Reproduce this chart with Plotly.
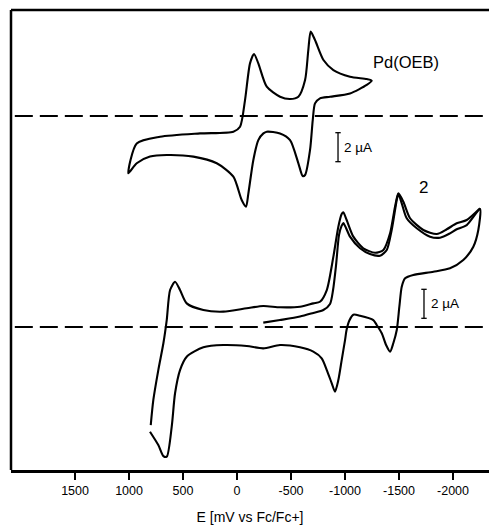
import plotly.graph_objects as go

# Potential axis ticks (mV vs Fc/Fc+)
tick_vals = [1500, 1000, 500, 0, -500, -1000, -1500, -2000]
tick_text = ["1500", "1000", "500", "0", "-500", "-1000", "-1500", "-2000"]

# Pd(OEB) cyclic voltammogram: potential (mV) and current (uA, relative to its own zero)
pd_E = [1006, 929, 713, 343, 34, -28, -74, -120, -157, -197, -275, -398, -491, -568, -630,
        -660, -682, -722, -800, -892, -1046, -1201, -1247, -1201, -1046, -861, -768, -722,
        -701, -676, -630, -608, -568, -491, -398, -275, -244, -197, -151, -105, -83, -43,
        34, 188, 404, 651, 806, 929, 1006]
pd_I = [-3.95, -1.89, -1.43, -1.20, -1.08, -0.74, 1.10, 3.63, 4.28, 3.63, 2.02, 1.33, 1.17,
        1.33, 2.48, 4.55, 5.82, 5.24, 3.86, 3.17, 2.71, 2.55, 2.44, 2.14, 1.56, 1.33, 1.22,
        0.87, -0.28, -2.34, -4.07, -4.14, -3.26, -1.66, -1.20, -1.08, -1.20, -1.66, -3.03,
        -5.33, -6.25, -5.79, -4.18, -3.26, -2.80, -2.69, -2.80, -3.26, -3.95]

# Compound 2, first scan (starts at -243 mV, turns at -2250 mV, returns to ~800 mV)
cv2_s1_E = [-243, -398, -583, -706, -799, -861, -889, -917, -944, -968, -984, -1009, -1046,
            -1139, -1231, -1324, -1386, -1432, -1479, -1494, -1525, -1571, -1664, -1787,
            -1880, -1972, -2034, -2127, -2250,
            -2234, -2188, -2095, -1972, -1818, -1632, -1556, -1525, -1503, -1479, -1447,
            -1417, -1380, -1340, -1293, -1262, -1139, -1077, -1040, -1014, -1000, -969,
            -938, -907, -877, -831, -784, -706, -583, -398, -243, -90, 127, 312, 466, 528,
            574, 605, 651, 682, 729, 806]
cv2_s1_I = [0.30, 0.48, 0.72, 0.97, 1.17, 1.59, 2.55, 4.28, 6.34, 6.97, 7.17, 6.83, 6.23,
            5.43, 5.03, 4.92, 5.31, 6.69, 8.76, 9.17, 8.53, 7.50, 6.81, 6.23, 6.16, 6.46,
            6.74, 7.03, 8.14,
            6.69, 5.54, 4.62, 4.05, 3.81, 3.59, 3.36, 2.78, 1.40, -0.21, -1.12, -1.70,
            -1.24, -0.43, 0.14, 0.48, 0.78, 0.85, 0.45, -0.21, -0.90, -2.28, -3.66, -4.46,
            -3.88, -2.97, -2.16, -1.70, -1.40, -1.24, -1.47, -1.31, -1.24, -1.40, -2.05,
            -2.97, -4.57, -6.88, -8.94, -8.90, -8.14, -7.22]

# Compound 2, second scan (from ~800 mV to -2250 mV)
cv2_s2_E = [799, 775, 729, 682, 651, 620, 574, 528, 466, 312, 127, -90, -243, -398, -583,
            -706, -768, -831, -892, -938, -969, -984, -1015, -1077, -1169, -1278, -1355,
            -1417, -1463, -1494, -1540, -1602, -1725, -1849, -1942, -2034, -2127, -2250]
cv2_s2_I = [-6.76, -5.03, -2.97, -1.12, 0.48, 2.55, 3.12, 2.55, 1.63, 1.17, 1.06, 1.29,
            1.45, 1.36, 1.40, 1.63, 1.74, 2.55, 4.85, 6.92, 7.79, 7.91, 7.38, 6.23, 5.43,
            5.12, 5.31, 6.46, 8.30, 9.22, 8.64, 7.50, 6.69, 6.41, 6.74, 7.15, 7.38, 8.19]

PD_OFFSET = 14.55  # vertical offset of the Pd(OEB) trace (uA)

FONT = "Arial, Liberation Sans, sans-serif"
LW = 2.1

fig = go.Figure()
line = dict(color="black", width=LW, shape="spline", smoothing=0.7)
fig.add_trace(go.Scatter(x=pd_E, y=[v + PD_OFFSET for v in pd_I], mode="lines", line=line,
                         hoverinfo="skip"))
fig.add_trace(go.Scatter(x=cv2_s1_E, y=cv2_s1_I, mode="lines", line=line, hoverinfo="skip"))
fig.add_trace(go.Scatter(x=cv2_s2_E, y=cv2_s2_I, mode="lines", line=line, hoverinfo="skip"))

# zero-current dashed baselines
for y0 in (PD_OFFSET, 0):
    fig.add_shape(type="line", xref="paper", x0=0.008, x1=1, yref="y", y0=y0, y1=y0,
                  line=dict(color="black", width=2, dash="18px,7px"))

# top and left frame lines
fig.add_shape(type="line", xref="paper", yref="paper", x0=0, x1=1, y0=1, y1=1,
              line=dict(color="black", width=2.5))
fig.add_shape(type="line", xref="paper", yref="paper", x0=0, x1=0, y0=0, y1=1,
              line=dict(color="black", width=2.5))

# 2 uA scale bars
def scale_bar(xc, ymid, label_x):
    w = 25
    fig.add_shape(type="line", x0=xc, x1=xc, y0=ymid - 1, y1=ymid + 1,
                  line=dict(color="black", width=1.3))
    for yy in (ymid - 1, ymid + 1):
        fig.add_shape(type="line", x0=xc - w, x1=xc + w, y0=yy, y1=yy,
                      line=dict(color="black", width=1.3))
    fig.add_annotation(x=label_x, y=ymid, text="2 µA", showarrow=False, xanchor="left",
                       yanchor="middle", font=dict(family=FONT, size=13.5, color="black"))

scale_bar(-935, 12.4, -975)
scale_bar(-1731, 1.6, -1780)

fig.add_annotation(x=-1240, y=18.3, text="Pd(OEB)", showarrow=False, xanchor="left",
                   yanchor="middle", font=dict(family=FONT, size=16.5, color="black"))
fig.add_annotation(x=-1731, y=9.6, text="2", showarrow=False, xanchor="center",
                   yanchor="middle", font=dict(family=FONT, size=17, color="black"))

fig.update_layout(
    width=489, height=525,
    margin=dict(l=11, r=0, t=10, b=55),
    paper_bgcolor="white", plot_bgcolor="rgba(0,0,0,0)",
    showlegend=False,
    font=dict(family=FONT, color="black"),
)
fig.update_xaxes(
    range=[2093, -2333], tickvals=tick_vals, ticktext=tick_text,
    ticks="outside", ticklen=7, tickwidth=1.5, tickcolor="black",
    showline=True, linecolor="black", linewidth=2.5, mirror=False,
    showgrid=False, zeroline=False,
    tickfont=dict(family=FONT, size=12.5, color="black"),
    title=dict(text="E [mV vs Fc/Fc+]", font=dict(family=FONT, size=14, color="black"),
               standoff=16),
)
fig.update_yaxes(
    range=[-9.86, 21.86], showticklabels=False, ticks="",
    showline=False, mirror=False,
    showgrid=False, zeroline=False,
)

fig.write_html("out.html", config={"displayModeBar": False},
               post_script="document.body.style.margin='0';document.body.style.overflow='hidden';")
